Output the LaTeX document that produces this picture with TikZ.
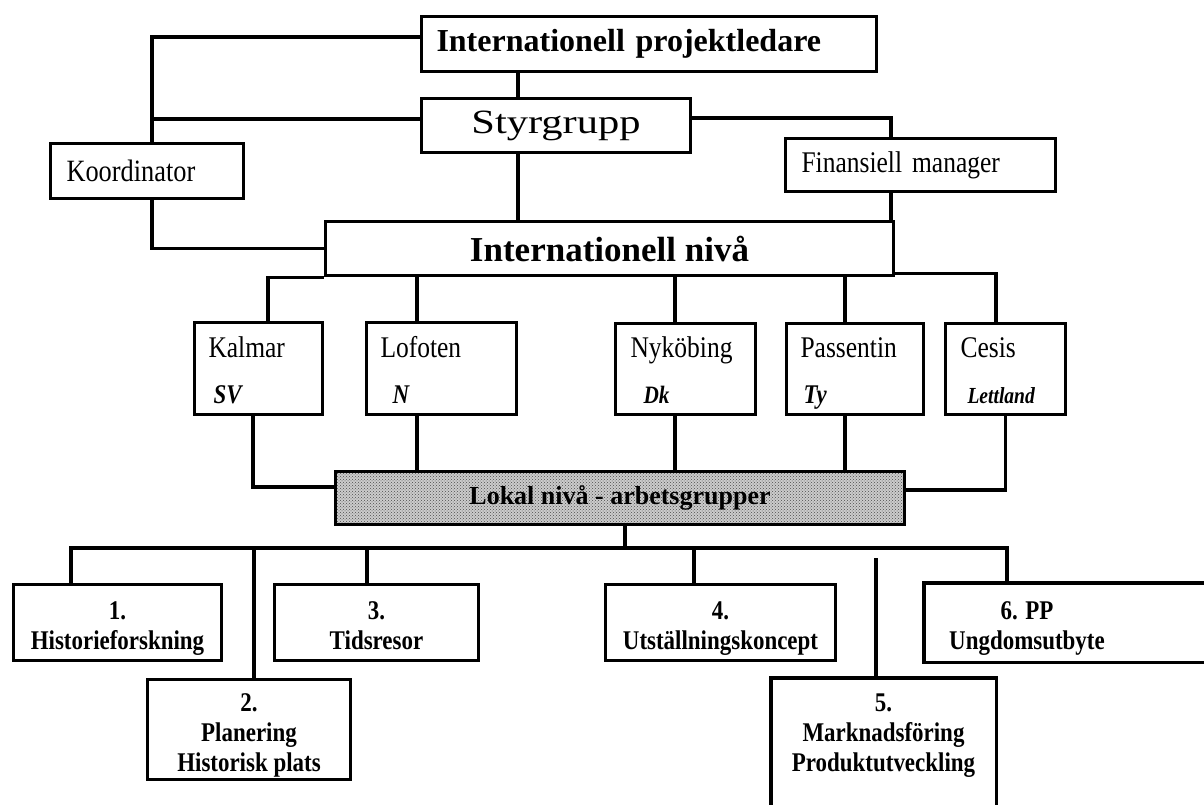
\documentclass[tikz,border=0pt]{standalone}
\usepackage{fontspec}
\setmainfont{Liberation Serif}
\newfontfamily\nar{Liberation Serif}[FakeStretch=0.85]
\newfontfamily\wid{Liberation Serif}[FakeStretch=1.25]
\usetikzlibrary{patterns}
\newcommand\topstrut{\rule{0pt}{30pt}}
\newcommand\botstrut{\rule[-7pt]{0pt}{7pt}}
\begin{document}
\begin{tikzpicture}[x=1pt,y=-1pt,
  box/.style={draw, line width=3.2pt, rectangle, inner sep=0pt},
  conn/.style={line width=3.2pt},
  city/.style={box, align=left, font=\nar\fontsize{30}{46}\selectfont},
  grp/.style={box, align=center, font=\nar\bfseries\fontsize{27}{30}\selectfont}
]
\fill[white] (0,0) rectangle (1204,805);
\useasboundingbox (0,0) rectangle (1204,805);

% top level
\node[box, minimum height=55pt, text width=425pt, inner xsep=15pt, align=left,
      font=\bfseries\fontsize{32}{36}\selectfont] (proj) at (649,44) {Internationell projektledare};
\node[box, minimum width=269pt, minimum height=54pt,
      font=\wid\fontsize{34}{36}\selectfont] (styr) at (556,125.5) {Styrgrupp};
\node[box, minimum height=55pt, text width=161pt, inner xsep=16pt, align=left,
      font=\nar\fontsize{31}{36}\selectfont] (koord) at (147,171) {Koordinator};
\node[box, minimum height=53pt, text width=238pt, inner xsep=16pt, align=left,
      font=\nar\fontsize{30}{36}\selectfont] (fin) at (920.5,165) {Finansiell manager};
\node[box, minimum width=568pt, minimum height=54pt,
      font=\bfseries\fontsize{35}{38}\selectfont] (intl) at (609.5,248.5) {Internationell nivå};

% cities
\node[city, minimum height=92pt, text width=100pt, inner xsep=14pt] (kalmar) at (258.5,368.5)
  {\topstrut Kalmar\\\hspace*{5pt}{\bfseries\itshape\fontsize{27}{46}\selectfont SV}\botstrut};
\node[city, minimum height=92pt, text width=122pt, inner xsep=14pt] (lofoten) at (441.5,368.5)
  {\topstrut Lofoten\\\hspace*{12pt}{\bfseries\itshape\fontsize{27}{46}\selectfont N}\botstrut};
\node[city, minimum height=91pt, text width=110pt, inner xsep=15pt] (nyk) at (685.5,369)
  {\topstrut Nyköbing\\\hspace*{13pt}{\bfseries\itshape\fontsize{25}{46}\selectfont Dk}\botstrut};
\node[city, minimum height=91pt, text width=109pt, inner xsep=14pt] (pass) at (855,369)
  {\topstrut Passentin\\\hspace*{3pt}{\bfseries\itshape\fontsize{27}{46}\selectfont Ty}\botstrut};
\node[city, minimum height=91pt, text width=90pt, inner xsep=15pt] (cesis) at (1005.5,369)
  {\topstrut Cesis\\\hspace*{7pt}{\bfseries\itshape\fontsize{23}{40}\selectfont Lettland}\botstrut};

% local level
\node[box, minimum width=569pt, minimum height=53pt,
      preaction={fill=black!20}, pattern=crosshatch dots, pattern color=black!70,
      font=\bfseries\fontsize{26}{30}\selectfont] (lokal) at (620,498) {Lokal nivå - arbetsgrupper};

% working groups
\node[grp, minimum width=208pt, minimum height=76pt] (g1) at (117.5,622.5) {\topstrut 1.\\Historieforskning\botstrut};
\node[grp, minimum width=203pt, minimum height=100pt] (g2) at (249,729.5) {\topstrut 2.\\Planering\\Historisk plats\botstrut};
\node[grp, minimum width=204pt, minimum height=76pt] (g3) at (376.5,622.5) {\topstrut 3.\\Tidsresor\botstrut};
\node[grp, minimum width=230pt, minimum height=76pt] (g4) at (720.5,622.5) {\topstrut 4.\\Utställningskoncept\botstrut};
\node[grp, draw=none, minimum width=222pt, minimum height=100pt] (g5) at (883.5,729.5) {\topstrut 5.\\Marknadsföring\\Produktutveckling\botstrut};
\node[grp, draw=none, minimum width=203pt, minimum height=76pt] (g6) at (1027,622.5) {\topstrut 6. PP\\Ungdomsutbyte\botstrut};
\draw[conn] ([yshift=-80pt]g5.south west) -- (g5.north west) -- (g5.north east) -- ([yshift=-80pt]g5.south east);
\draw[conn] ([xshift=300pt]g6.north east) -- (g6.north west) -- (g6.south west) -- ([xshift=300pt]g6.south east);

% helper coordinates
\coordinate (kx) at (152,0);
\coordinate (vx) at (518,0);
\coordinate (fx) at (891,0);
\coordinate (c2) at (417,0);
\coordinate (c3) at (675,0);
\coordinate (c4) at (845,0);
\coordinate (s1) at ([yshift=6.5pt]styr.west);
\coordinate (s2) at ([yshift=7.5pt]styr.east);
\coordinate (busL) at (71,548);
\coordinate (busR) at (1007,548);
\coordinate (lb) at (625,548);
\coordinate (d2) at (254,548);
\coordinate (d3) at (367,548);
\coordinate (d4) at (694,548);
\coordinate (g5top) at (876,558);

% top connectors
\draw[conn] ([yshift=7pt]proj.west) -| ([xshift=5pt]koord.north);
\draw[conn] (s1) -- (s1 -| kx);
\draw[conn] (vx |- proj.south) -- (vx |- styr.north);
\draw[conn] (vx |- styr.south) -- (vx |- intl.north);
\draw[conn] (s2) -| (fx |- fin.north);
\draw[conn] (fx |- fin.south) -- (fx |- intl.north);
\draw[conn] ([xshift=5pt]koord.south) |- (intl.west);

% international -> cities
\draw[conn] (intl.south west) -| ([xshift=9.5pt]kalmar.north);
\draw[conn] (c2 |- intl.south) -- (c2 |- lofoten.north);
\draw[conn] (c3 |- intl.south) -- (c3 |- nyk.north);
\draw[conn] (c4 |- intl.south) -- (c4 |- pass.north);
\draw[conn] ([yshift=4pt]intl.south east) -| ([xshift=-9.5pt]cesis.north);

% cities -> local
\draw[conn] ([xshift=-5.5pt]kalmar.south) |- ([yshift=11pt]lokal.west);
\draw[conn] (c2 |- lofoten.south) -- (c2 |- lokal.north);
\draw[conn] (c3 |- nyk.south) -- (c3 |- lokal.north);
\draw[conn] (c4 |- pass.south) -- (c4 |- lokal.north);
\draw[conn] (cesis.south) |- ([yshift=8pt]lokal.east);

% local -> groups
\draw[conn] (lokal.south -| lb) -- (lb);
\draw[conn] (busL |- g1.north) -- (busL) -- (busR) -- (busR |- g6.north);
\draw[conn] (d2) -- (d2 |- g2.north);
\draw[conn] (d3) -- (d3 |- g3.north);
\draw[conn] (d4) -- (d4 |- g4.north);
\draw[conn] (g5top) -- (g5top |- g5.north);
\end{tikzpicture}
\end{document}
